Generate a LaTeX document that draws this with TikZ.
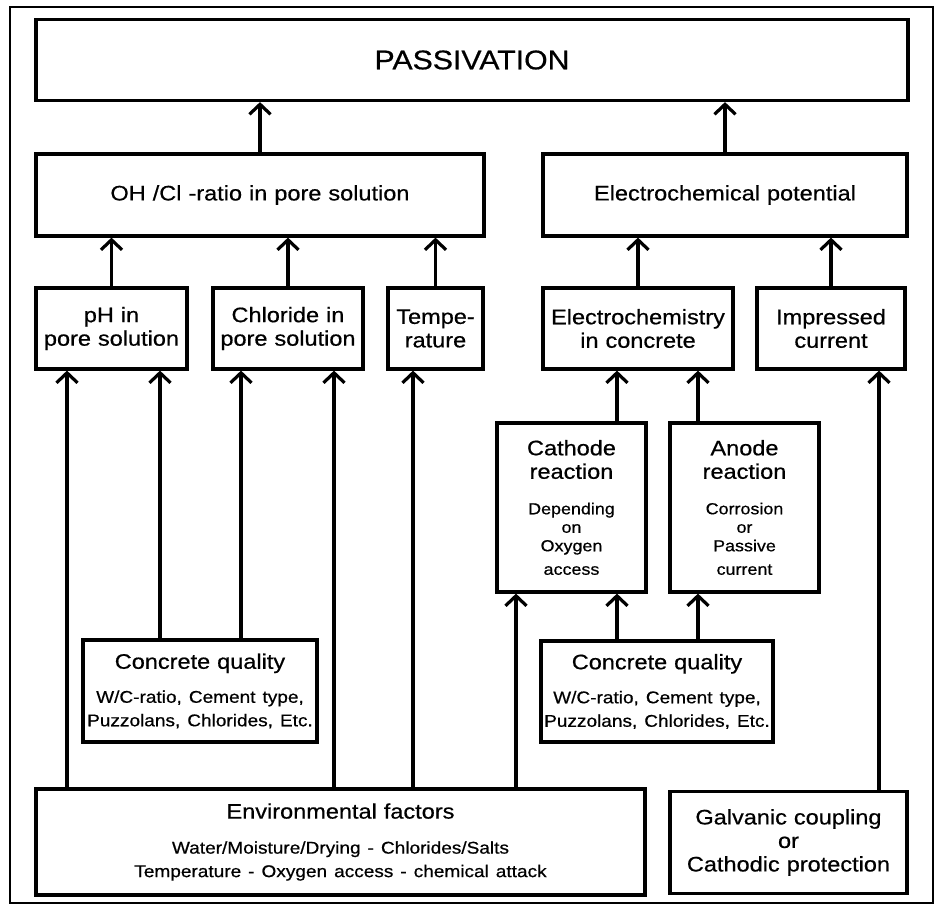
\documentclass[tikz,border=0pt]{standalone}
\usepackage{fontspec}
\setmainfont{Liberation Sans}[FakeStretch=1.12,FakeBold=0.6]
\usetikzlibrary{arrows.meta}
\newcommand\detailfont{\fontsize{17}{18}\selectfont}

\begin{document}
\begin{tikzpicture}[x=1pt,y=-1pt,
    box/.style={draw,line width=3.2pt,align=center,inner sep=0pt,font=\fontsize{21}{23.5}\selectfont},
    arr/.style={line width=3.2pt,-{Straight Barb[length=10pt,width=21pt]}}]
  \useasboundingbox (0,0) rectangle (937,909);
  \draw[line width=1.3pt] (10,7) rectangle (933,903);

  \node[box,text width=872pt,minimum height=81pt,font=\fontsize{27}{30}\selectfont] (passiv) at (472,60) {PASSIVATION};
  \node[box,text width=448pt,minimum height=82pt] (oh) at (260,195) {OH /Cl -ratio in pore solution};
  \node[box,text width=364pt,minimum height=82pt] (elpot) at (725,195) {Electrochemical potential};

  \node[box,text width=151pt,minimum height=81pt] (ph) at (111.5,328.5) {pH in\\pore solution};
  \node[box,text width=150pt,minimum height=81pt] (chl) at (288,328.5) {Chloride in\\pore solution};
  \node[box,text width=95pt,minimum height=81pt] (temp) at (435.5,328.5) {Tempe-\\rature};
  \node[box,text width=190pt,minimum height=81pt] (elchem) at (638,328.5) {Electrochemistry\\in concrete};
  \node[box,text width=148pt,minimum height=81pt] (imp) at (831,328.5) {Impressed\\current};

  \node[box,text width=149pt,minimum height=169pt] (cath) at (571.5,507.5)
    {Cathode\\reaction\par\vspace{17pt}\fontsize{16}{18.5}\selectfont Depending\\on\\Oxygen\\access};
  \node[box,text width=149pt,minimum height=169pt] (anode) at (744.5,507.5)
    {Anode\\reaction\par\vspace{17pt}\fontsize{16}{18.5}\selectfont Corrosion\\or\\Passive\\current};

  \node[box,text width=234pt,minimum height=102pt] (cq1) at (200,691)
    {Concrete quality\par\vspace{16pt}\detailfont W/C-ratio, Cement type,\\Puzzolans, Chlorides, Etc.};
  \node[box,text width=232pt,minimum height=101pt] (cq2) at (657,691.5)
    {Concrete quality\par\vspace{16pt}\detailfont W/C-ratio, Cement type,\\Puzzolans, Chlorides, Etc.};

  \node[box,text width=609pt,minimum height=106pt] (env) at (340.5,842)
    {Environmental factors\par\vspace{17pt}\detailfont Water/Moisture/Drying - Chlorides/Salts\\Temperature - Oxygen access - chemical attack};
  \node[box,text width=237pt,minimum height=102pt] (galv) at (788.5,842.5) {Galvanic coupling\\or\\Cathodic protection};

  % upward influences
  \draw[arr] (oh.north) -- (oh.north |- passiv.south);
  \draw[arr] (elpot.north) -- (elpot.north |- passiv.south);
  \foreach \from in {ph,chl,temp}
    \draw[arr] (\from.north) -- (\from.north |- oh.south);
  \foreach \from in {elchem,imp}
    \draw[arr] (\from.north) -- (\from.north |- elpot.south);
  \draw[arr] (cath.north -| 617,0) -- (elchem.south -| 617,0);
  \draw[arr] (anode.north -| 698,0) -- (elchem.south -| 698,0);
  \draw[arr] (cq2.north -| 617,0) -- (cath.south -| 617,0);
  \draw[arr] (cq2.north -| 698,0) -- (anode.south -| 698,0);
  \draw[arr] (cq1.north -| 160,0) -- (ph.south -| 160,0);
  \draw[arr] (cq1.north -| 241,0) -- (chl.south -| 241,0);
  \foreach \x/\to in {67/ph,334/chl,413/temp,516/cath}
    \draw[arr] (env.north -| \x,0) -- (\to.south -| \x,0);
  \draw[arr] (galv.north -| 879,0) -- (imp.south -| 879,0);
\end{tikzpicture}
\end{document}
